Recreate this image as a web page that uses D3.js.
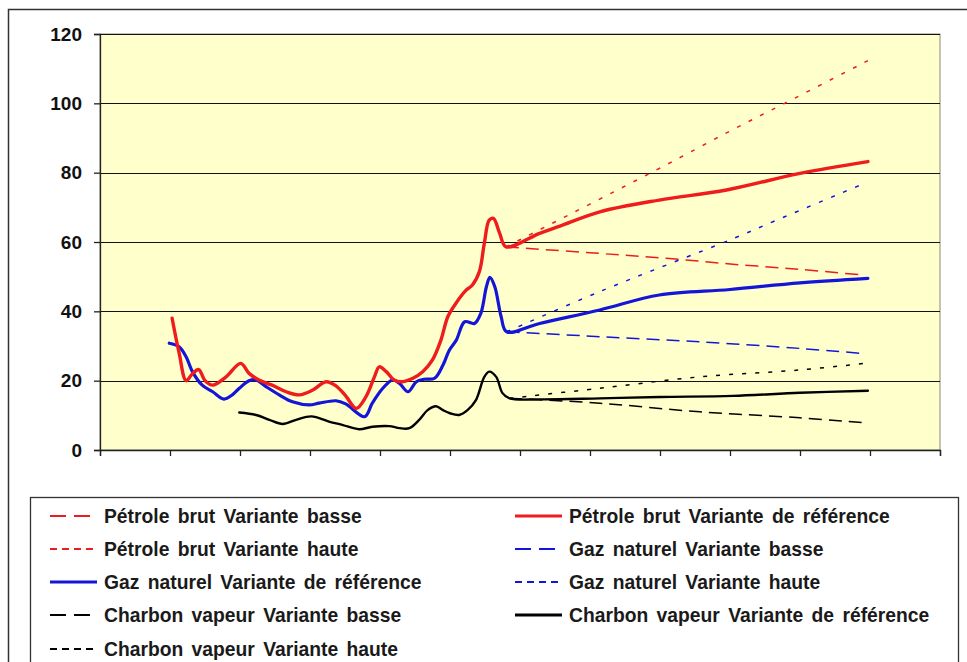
<!DOCTYPE html>
<html>
<head>
<meta charset="utf-8">
<script src="https://cdn.jsdelivr.net/npm/d3@7"></script>
<style>
  body { margin: 0; background: #fff; }
  svg { display: block; font-family: "Liberation Sans", Arial, sans-serif; }
</style>
</head>
<body>
<div id="chart"></div>
<script>
// x is in tick units (12 unlabeled intervals on the axis)
var yTicks = [0, 20, 40, 60, 80, 100, 120];
var xTicks = d3.range(0, 13);

// historical + reference curves
var petroleRef = [[1.03,38.0],[1.13,28.0],[1.23,20.0],[1.32,22.0],[1.41,23.2],[1.50,20.0],[1.61,18.7],
  [1.80,21.1],[2.01,25.0],[2.13,22.1],[2.27,20.2],[2.46,18.7],[2.66,16.8],[2.85,15.9],[3.04,17.3],
  [3.23,19.7],[3.37,18.5],[3.51,15.6],[3.66,12.0],[3.80,15.4],[3.92,21.1],[3.99,24.0],[4.09,22.6],
  [4.20,20.2],[4.32,19.7],[4.47,20.7],[4.61,22.6],[4.75,26.0],[4.87,31.7],[4.97,38.5],[5.09,42.5],
  [5.23,46.1],[5.32,47.6],[5.42,51.5],[5.49,59.6],[5.56,66.3],[5.62,66.8],[5.71,62.5],[5.80,58.6],
  [6.28,62.5],[6.57,64.6],[7.14,68.7],[7.99,72.1],[8.95,75.0],[10.0,79.8],[10.97,83.2]];
var petroleBasse = [[5.80,58.6],[7.14,56.7],[8.09,55.3],[9.04,53.6],[10.0,52.1],[10.88,50.5]];
var petroleHaute = [[5.80,58.6],[7.95,80.8],[9.0,92.0],[9.78,100.0],[10.97,112.3]];

var gazRef = [[0.99,30.8],[1.13,29.8],[1.23,26.9],[1.32,22.6],[1.46,18.7],[1.61,16.8],[1.77,14.7],
  [1.89,15.9],[1.99,17.8],[2.13,20.0],[2.23,20.2],[2.37,18.3],[2.56,15.9],[2.75,13.9],[2.99,13.0],
  [3.13,13.5],[3.37,14.2],[3.51,13.3],[3.78,9.6],[3.89,13.5],[4.04,17.8],[4.18,20.2],[4.28,19.2],
  [4.40,16.8],[4.52,19.7],[4.63,20.4],[4.78,20.7],[4.90,24.5],[4.99,28.8],[5.09,31.7],[5.21,37.0],
  [5.35,36.5],[5.44,39.4],[5.52,47.1],[5.57,49.8],[5.64,47.1],[5.73,38.5],[5.81,34.1],
  [6.28,36.5],[7.14,40.4],[7.99,44.7],[9.0,46.3],[10.0,48.2],[10.97,49.5]];
var gazBasse = [[5.81,34.1],[7.14,32.7],[8.57,31.2],[10.0,29.3],[10.86,27.9]];
var gazHaute = [[5.81,34.1],[7.14,45.7],[9.0,60.6],[9.62,65.9],[10.86,76.4]];

var charbonRef = [[1.99,10.8],[2.23,10.1],[2.42,8.7],[2.61,7.5],[2.80,8.7],[3.02,9.7],[3.27,8.2],
  [3.47,7.2],[3.70,6.0],[3.89,6.7],[4.13,6.9],[4.28,6.3],[4.42,6.3],[4.56,8.7],[4.68,11.5],
  [4.80,12.6],[4.90,11.5],[5.0,10.6],[5.13,10.1],[5.25,11.5],[5.37,14.4],[5.49,21.1],[5.56,22.6],
  [5.66,21.1],[5.75,16.4],[5.85,14.9],[6.28,14.6],[7.14,14.9],[8.0,15.3],[9.04,15.6],[10.0,16.5],
  [10.97,17.1]];
var charbonBasse = [[5.85,14.9],[7.14,13.5],[8.57,11.0],[10.0,9.3],[10.88,7.9]];
var charbonHaute = [[5.85,14.9],[7.14,17.8],[8.57,21.1],[10.0,23.1],[10.93,25.0]];

var seriesNames = [
  "Pétrole brut Variante basse", "Pétrole brut Variante de référence",
  "Pétrole brut Variante haute", "Gaz naturel Variante basse",
  "Gaz naturel Variante de référence", "Gaz naturel Variante haute",
  "Charbon vapeur Variante basse", "Charbon vapeur Variante de référence",
  "Charbon vapeur Variante haute"];
var seriesData = [petroleBasse, petroleRef, petroleHaute, gazBasse, gazRef, gazHaute,
  charbonBasse, charbonRef, charbonHaute];

var RED = "#ee1c1c", BLUE = "#1515d8", BLACK = "#000";
var styles = [
  {c: RED, w: 1.5, d: "13,7"}, {c: RED, w: 3.4, d: null}, {c: RED, w: 1.5, d: "4,9"},
  {c: BLUE, w: 1.5, d: "13,7"}, {c: BLUE, w: 3.2, d: null}, {c: BLUE, w: 1.5, d: "4,9"},
  {c: BLACK, w: 1.5, d: "13,7"}, {c: BLACK, w: 2.4, d: null}, {c: BLACK, w: 1.5, d: "4,9"}
];

var W = 967, H = 662;
var svg = d3.select("#chart").append("svg").attr("width", W).attr("height", H);

// outer frame
svg.append("rect").attr("x", 8.5).attr("y", 9.5).attr("width", W).attr("height", H)
  .attr("fill", "#fff").attr("stroke", "#333").attr("stroke-width", 1.5);

var plot = {left: 100, top: 34, right: 940, bottom: 450};
var x = d3.scaleLinear().domain([0, 12]).range([plot.left, plot.right]);
var y = d3.scaleLinear().domain([0, 120]).range([plot.bottom, plot.top]);

svg.append("rect").attr("x", plot.left).attr("y", plot.top)
  .attr("width", plot.right - plot.left).attr("height", plot.bottom - plot.top)
  .attr("fill", "#ffffcc").attr("stroke", "#8a8a80").attr("stroke-width", 1);

// gridlines
svg.append("g").selectAll("line").data(yTicks.filter(function(d){ return d > 0; }))
  .enter().append("line")
  .attr("x1", plot.left).attr("x2", plot.right)
  .attr("y1", function(d){ return Math.round(y(d)) + 0.5; })
  .attr("y2", function(d){ return Math.round(y(d)) + 0.5; })
  .attr("stroke", "#111").attr("stroke-width", 1);

// y axis
var yAxis = svg.append("g").attr("transform", "translate(" + plot.left + ",0)")
  .call(d3.axisLeft(y).tickValues(yTicks).tickSize(6).tickPadding(12));
yAxis.selectAll("text").attr("font-size", 19).attr("font-weight", "bold")
  .attr("fill", "#111").attr("font-family", "Liberation Sans, Arial, sans-serif");
yAxis.selectAll("line, path").attr("stroke", "#222").attr("stroke-width", 1.3);

// x axis (no labels)
var xAxis = svg.append("g").attr("transform", "translate(0," + plot.bottom + ")")
  .call(d3.axisBottom(x).tickValues(xTicks).tickSize(6).tickFormat(""));
xAxis.selectAll("line, path").attr("stroke", "#222").attr("stroke-width", 1.3);

// curves
var line = d3.line()
  .x(function(d){ return x(d[0]); })
  .y(function(d){ return y(d[1]); })
  .curve(d3.curveCatmullRom.alpha(0.5));

var order = [0, 2, 3, 5, 6, 8, 7, 4, 1];
order.forEach(function(i){
  var s = styles[i];
  svg.append("path").datum(seriesData[i])
    .attr("d", line)
    .attr("fill", "none")
    .attr("stroke", s.c)
    .attr("stroke-width", s.w)
    .attr("stroke-dasharray", s.d)
    .attr("stroke-linejoin", "round")
    .attr("stroke-linecap", s.d ? "butt" : "round");
});

// legend
var lg = svg.append("g");
lg.append("rect").attr("x", 30.5).attr("y", 497.5).attr("width", 928).attr("height", 200)
  .attr("fill", "#fff").attr("stroke", "#333").attr("stroke-width", 1.3);

var rowY = [516, 549, 582, 615, 649];
seriesNames.forEach(function(name, i){
  var col = i % 2, row = Math.floor(i / 2);
  var x0 = col === 0 ? 50 : 515;
  var cy = rowY[row];
  var s = styles[i];
  lg.append("line").attr("x1", x0).attr("x2", x0 + 47).attr("y1", cy).attr("y2", cy)
    .attr("stroke", s.c).attr("stroke-width", s.d ? 1.8 : 3)
    .attr("stroke-dasharray", s.d ? (s.d === "13,7" ? "16,8" : "7,5") : null);
  lg.append("text").attr("x", x0 + 54).attr("y", cy).attr("dy", "0.35em")
    .attr("font-size", 19.3).attr("font-weight", "bold").attr("fill", "#1a1a1a")
    .attr("word-spacing", 3)
    .text(name);
});
</script>
</body>
</html>
